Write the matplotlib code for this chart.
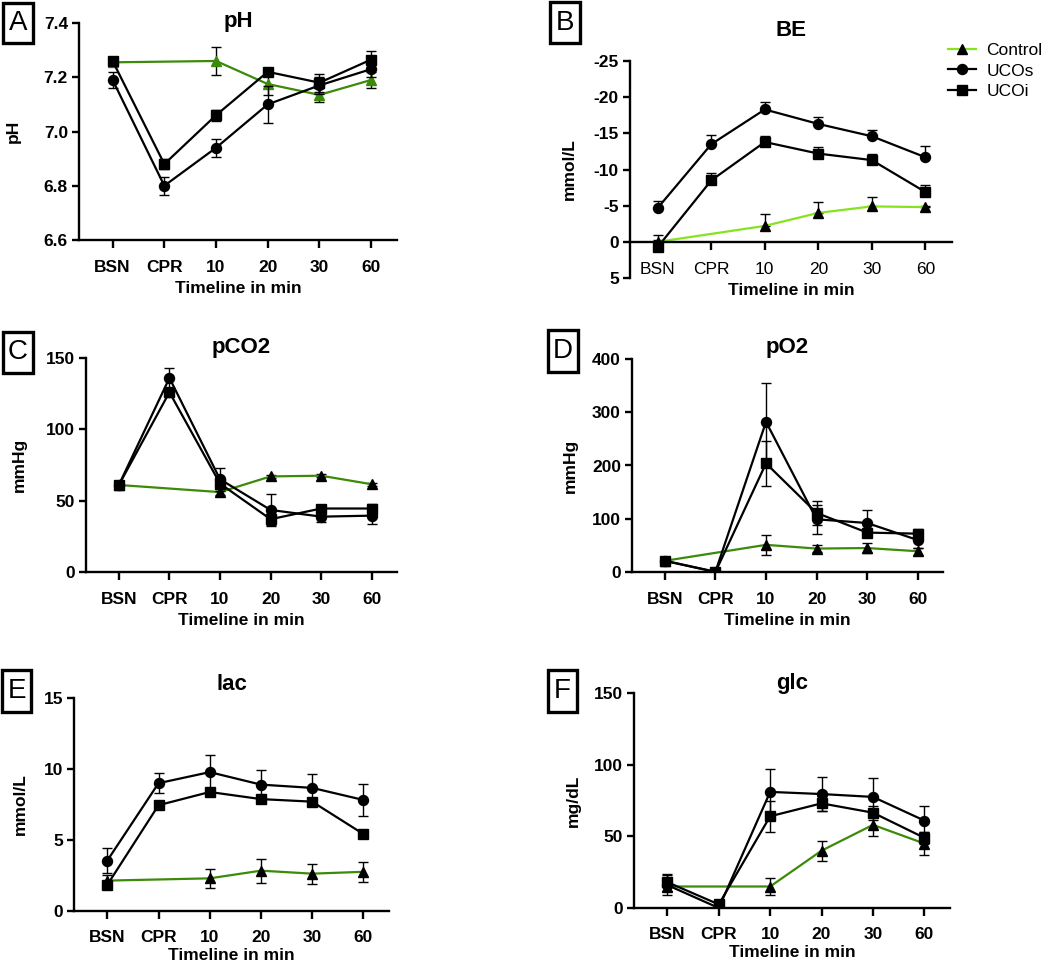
"""Blood gas panels (pH, BE, pCO2, pO2, lac, glc) over the resuscitation timeline."""
import numpy as np
import matplotlib
matplotlib.use("Agg")
import matplotlib.pyplot as plt
from matplotlib.patches import Rectangle

plt.rcParams["font.family"] = ["Liberation Sans", "DejaVu Sans"]
plt.rcParams["axes.unicode_minus"] = False

timeline = ["BSN", "CPR", "10", "20", "30", "60"]
nan = np.nan

# pH
ph_ucos = [7.19, 6.80, 6.94, 7.10, 7.17, 7.23]
ph_ucos_err = [0.03, 0.034, 0.034, 0.068, 0.03, 0.03]
ph_ucoi = [7.26, 6.88, 7.06, 7.22, 7.18, 7.265]
ph_ucoi_err = [0.01, 0.02, 0.02, 0.01, 0.033, 0.03]
ph_ctrl = [7.255, nan, 7.26, 7.175, 7.135, 7.19]
ph_ctrl_err = [0.01, nan, 0.053, 0.04, 0.027, 0.03]

# base excess (one-sided bars)
be_ucos = [-4.7, -13.5, -18.3, -16.3, -14.6, -11.7]
be_ucos_err = [0.9, 1.3, 1.0, 0.9, 0.85, 1.5]
be_ucoi = [0.7, -8.5, -13.8, -12.2, -11.3, -6.9]
be_ucoi_err = [1.7, 0.95, 0.9, 0.9, 0.85, 0.95]
be_ctrl = [0.0, nan, -2.2, -4.0, -4.9, -4.8]
be_ctrl_err = [0.3, nan, 1.6, 1.5, 1.3, 0.2]

# pCO2
pco2_ucos = [61, 136, 65, 43.5, 38.8, 39.5]
pco2_ucos_err = [2, 7, 8, 11, 4, 6]
pco2_ucoi = [61, 126, 62, 37, 44.5, 44.5]
pco2_ucoi_err = [2, 3, 3, 4, 2, 3]
pco2_ctrl = [61, nan, 56, 67, 67.5, 61.5]
pco2_ctrl_err = [1, nan, 2, 1, 1, 1]

# pO2
po2_ucos = [21, 0.5, 282, 99, 92, 60]
po2_ucos_err = [3, 1, 72, 27, 24, 15]
po2_ucoi = [21, 0, 204, 111, 74, 72]
po2_ucoi_err = [3, 1, 42, 22, 5, 8]
po2_ctrl = [21, nan, 51, 44, 45, 39]
po2_ctrl_err = [2, nan, 19, 7, 10, 7]

# lactate
lac_ucos = [3.55, 9.0, 9.78, 8.9, 8.67, 7.82]
lac_ucos_err = [0.9, 0.7, 1.2, 1.0, 1.0, 1.1]
lac_ucoi = [1.84, 7.45, 8.38, 7.88, 7.70, 5.42]
lac_ucoi_err = [0.3, 0.2, 0.2, 0.2, 0.2, 0.2]
lac_ctrl = [2.14, nan, 2.3, 2.84, 2.63, 2.76]
lac_ctrl_err = [0.4, nan, 0.65, 0.85, 0.7, 0.7]

# glucose
glc_ucos = [16, 0, 81, 79.5, 77.5, 61]
glc_ucos_err = [7, 1, 16, 12, 13, 10]
glc_ucoi = [18, 2.5, 64, 73, 66.5, 49]
glc_ucoi_err = [6, 1, 11, 5, 5, 4]
glc_ctrl = [15, nan, 15, 40, 58, 45]
glc_ctrl_err = [3, nan, 6, 7, 8, 8]

W, H = 1050, 966
GREEN = "#3C8A0A"
LIME = "#86E31E"
FS = 12.5

fig = plt.figure(figsize=(W / 100, H / 100), dpi=100)


def px_axes(left, top, right, bottom):
    return fig.add_axes([left / W, 1 - bottom / H, (right - left) / W, (bottom - top) / H])


def letter_box(x0, y0, x1, y1, letter):
    fig.patches.append(Rectangle((x0 / W, 1 - y1 / H), (x1 - x0) / W, (y1 - y0) / H,
                                 transform=fig.transFigure, fill=False, ec="black", lw=2.4))
    fig.text((x0 + x1) / 2 / W, 1 - (y0 + y1) / 2 / H, letter, ha="center", va="center",
             fontsize=20)


def panel(box, title, title_y, ylabel, ylab_x, ylim, yticks, data, ctrl_color,
          ctrl_marker_color, one_sided=False, xleft=-0.65, fmt=None, xlabelpad=4.5,
          tickpad=9):
    left, top, right, bottom = box
    ax = px_axes(*box)
    x = np.arange(len(timeline))
    (ucos, ucos_e), (ucoi, ucoi_e), (ctrl, ctrl_e) = data
    ctrl = np.array(ctrl, float)
    ctrl_e = np.array(ctrl_e, float)
    m = ~np.isnan(ctrl)

    def err(e):
        e = np.asarray(e, float)
        return [e, np.zeros_like(e)] if one_sided else e

    kw = dict(lw=1.6, elinewidth=1.0, capsize=3.8, capthick=1.0, ecolor="black")
    hc = ax.errorbar(x[m], ctrl[m], yerr=err(ctrl_e[m]), color=ctrl_color, marker="^", ms=7.5,
                     mfc=ctrl_marker_color, mec=ctrl_marker_color, label="Control", zorder=2, **kw)
    hs = ax.errorbar(x, ucos, yerr=err(ucos_e), color="black", marker="o", ms=7.2,
                     label="UCOs", zorder=3, **kw)
    hi = ax.errorbar(x, ucoi, yerr=err(ucoi_e), color="black", marker="s", ms=7,
                     label="UCOi", zorder=3, **kw)

    ax.set_xlim(xleft, 5.5)
    ax.set_ylim(*ylim)
    ax.set_yticks(yticks)
    if fmt:
        ax.set_yticklabels([fmt.format(t) for t in yticks])
    ax.set_xticks(x)
    ax.set_xticklabels(timeline)
    for s in ("top", "right"):
        ax.spines[s].set_visible(False)
    for s in ("left", "bottom"):
        ax.spines[s].set_linewidth(1.7)
    ax.tick_params(axis="x", length=5.5, width=1.7, pad=tickpad, labelsize=FS)
    ax.tick_params(axis="y", length=5, width=1.7, pad=3, labelsize=FS)
    for lab in ax.get_xticklabels() + ax.get_yticklabels():
        lab.set_fontweight("bold")
    ax.set_xlabel("Timeline in min", fontsize=FS, fontweight="bold", labelpad=xlabelpad)
    ax.set_ylabel(ylabel, fontsize=FS, fontweight="bold")
    ax.yaxis.set_label_coords((ylab_x - left) / (right - left), 0.5)
    fig.text((left + right) / 2 / W, 1 - title_y / H, title, ha="center", va="center",
             fontsize=16, fontweight="bold")
    return ax, (hc, hs, hi)


panel((79, 23, 397, 240), "pH", 22, "pH", 21, (6.6, 7.4), [6.6, 6.8, 7.0, 7.2, 7.4],
      [(ph_ucos, ph_ucos_err), (ph_ucoi, ph_ucoi_err), (ph_ctrl, ph_ctrl_err)],
      GREEN, GREEN, fmt="{:.1f}")

axB, handles = panel((630, 61, 952, 278), "BE", 30, "mmol/L", 577, (5, -25),
                     [-25, -20, -15, -10, -5, 0, 5],
                     [(be_ucos, be_ucos_err), (be_ucoi, be_ucoi_err), (be_ctrl, be_ctrl_err)],
                     LIME, "black", one_sided=True, xleft=-0.52)
axB.spines["bottom"].set_position(("data", 0))

panel((86, 358, 397, 572), "pCO2", 348, "mmHg", 27, (0, 150), [0, 50, 100, 150],
      [(pco2_ucos, pco2_ucos_err), (pco2_ucoi, pco2_ucoi_err), (pco2_ctrl, pco2_ctrl_err)],
      GREEN, "black")

panel((632, 359, 943, 572), "pO2", 348, "mmHg", 578, (0, 400), [0, 100, 200, 300, 400],
      [(po2_ucos, po2_ucos_err), (po2_ucoi, po2_ucoi_err), (po2_ctrl, po2_ctrl_err)],
      GREEN, "black")

panel((74, 698, 389, 911), "lac", 684, "mmol/L", 28, (0, 15), [0, 5, 10, 15],
      [(lac_ucos, lac_ucos_err), (lac_ucoi, lac_ucoi_err), (lac_ctrl, lac_ctrl_err)],
      GREEN, "black", xlabelpad=2, tickpad=8)

panel((634, 693, 950, 908), "glc", 683, "mg/dL", 581, (0, 150), [0, 50, 100, 150],
      [(glc_ucos, glc_ucos_err), (glc_ucoi, glc_ucoi_err), (glc_ctrl, glc_ctrl_err)],
      GREEN, "black", xlabelpad=2, tickpad=8)

letter_box(3, 3, 33, 43, "A")
letter_box(550, 2, 580, 43, "B")
letter_box(3, 332, 33, 373, "C")
letter_box(548, 330, 578, 372, "D")
letter_box(2, 670, 31, 712, "E")
letter_box(548, 670, 577, 712, "F")

leg_handles = [h[0] for h in handles]
fig.legend(leg_handles, ["Control", "UCOs", "UCOi"], loc="upper left",
           bbox_to_anchor=(948 / W, 1 - 43 / H), frameon=False, fontsize=12.5,
           handlelength=1.6, handletextpad=0.6, labelspacing=0.3, borderpad=0,
           borderaxespad=0)

fig.savefig("out.png", dpi=100)
print("Wrote out.png")
